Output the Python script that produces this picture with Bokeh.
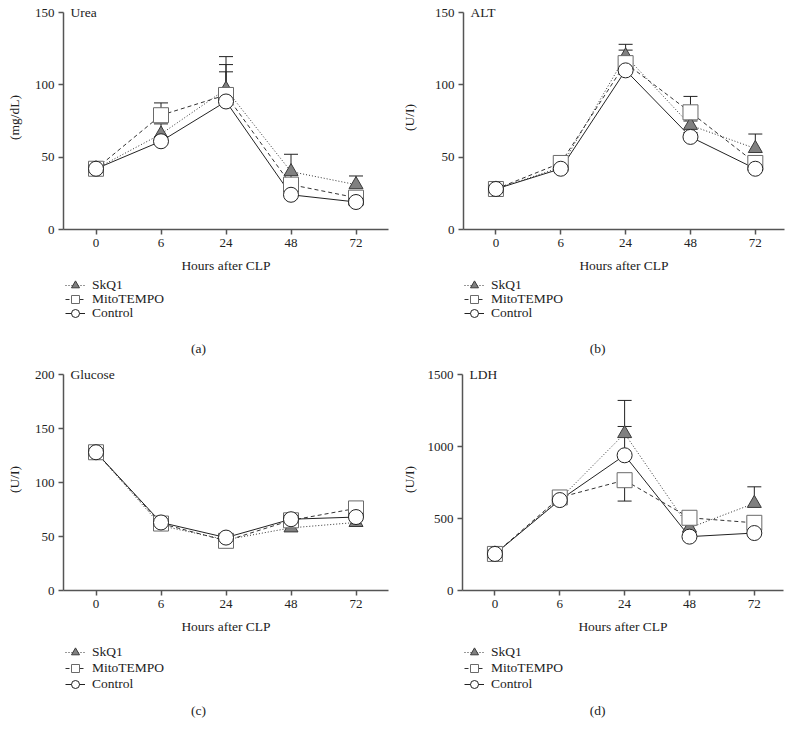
from bokeh.plotting import figure
from bokeh.models import Range1d, FixedTicker, Legend, LegendItem, Label
from bokeh.layouts import column, row
from bokeh.embed import file_html
from bokeh.resources import INLINE

hours = ["0", "6", "24", "48", "72"]
series_names = ["SkQ1", "MitoTEMPO", "Control"]

# (a) Urea, mg/dL
urea_skq1 = [42, 66, 97, 40, 31]
urea_skq1_err = [2, 7, 22.5, 12, 6]
urea_mito = [42, 79, 93, 31, 22]
urea_mito_err = [2, 8.5, 21, 7, 3]
urea_ctrl = [42, 61, 88.5, 24, 19]
urea_ctrl_err = [2, 3, 20.5, 3, 2]

# (b) ALT
alt_skq1 = [28, 43, 120, 72, 56]
alt_skq1_err = [2, 3, 8, 3, 10]
alt_mito = [28, 46, 115, 81, 46]
alt_mito_err = [2, 3, 9, 11, 4]
alt_ctrl = [28, 42, 110, 64, 42]
alt_ctrl_err = [2, 3, 4, 3, 3]

# (c) Glucose
glu_skq1 = [128, 60, 47, 58, 63]
glu_skq1_err = [3, 3, 3, 3, 3]
glu_mito = [128, 62, 46, 65, 76]
glu_mito_err = [3, 3, 3, 3, 3]
glu_ctrl = [128, 63, 49, 66, 68]
glu_ctrl_err = [3, 3, 3, 3, 3]

# (d) LDH
ldh_skq1 = [254, 635, 1090, 435, 605]
ldh_skq1_err = [20, 40, 230, 30, 115]
ldh_mito = [254, 646, 766, 505, 470]
ldh_mito_err = [20, 40, 0, 30, 30]
ldh_mito_err_down = [0, 0, 145, 0, 0]
ldh_ctrl = [254, 628, 939, 374, 399]
ldh_ctrl_err = [20, 40, 200, 30, 30]

SERIF = "Liberation Serif"
INK = "#222222"
FS = "13.5px"
STYLES = [
    dict(dash="1 2", marker="triangle", size=14, fill="#808080", edge="#3a3a3a", lc="#333333"),
    dict(dash="4 3", marker="square", size=15, fill="white", edge="#6a6a6a", lc="#333333"),
    dict(dash="solid", marker="circle", size=15, fill="white", edge="#222222", lc="#222222"),
]


def geometry(left_col, top_row):
    if left_col:
        g = dict(xr=(-0.5, 4.5), fw=325, bl=63, br=10)
    else:
        g = dict(xr=(-0.5, 4.45), fw=321, bl=64, br=4)
    g["cap_dx"] = 135
    if top_row:
        # legend row centres and caption centre, measured from the footer top
        g.update(bt=5, ext=7, fh0=217, bb=48, xlab_so=8, foot_h=91,
                 rows=(8, 22, 36), cap_y=71)
    else:
        g.update(bt=0, ext=6, fh0=216, bb=48, xlab_so=8, foot_h=91,
                 rows=(14, 30, 46), cap_y=72)
    return g


def make_panel(title, ylabel, yend, yticks, ys, errs_up, errs_dn, left_col, top_row,
               ylab_standoff, caption):
    g = geometry(left_col, top_row)
    fw, bl, br, bt, bb = g["fw"], g["bl"], g["br"], g["bt"], g["bb"]
    fh = g["fh0"] + g["ext"]
    ytop = yend * fh / g["fh0"]
    p = figure(width=bl + fw + br, height=bt + fh + bb, frame_width=fw, frame_height=fh,
               min_border_left=bl, min_border_right=br, min_border_top=bt, min_border_bottom=bb,
               x_range=Range1d(*g["xr"]), y_range=Range1d(0, ytop),
               output_backend="svg", toolbar_location=None)
    p.outline_line_color = None
    p.xgrid.visible = False
    p.ygrid.visible = False

    p.xaxis.ticker = FixedTicker(ticks=list(range(len(hours))))
    p.xaxis.major_label_overrides = {i: h for i, h in enumerate(hours)}
    p.xaxis.axis_label = "Hours after CLP"
    p.xaxis.axis_label_standoff = g["xlab_so"]
    p.xaxis.major_label_standoff = 4
    p.yaxis.ticker = FixedTicker(ticks=yticks)
    p.yaxis.bounds = (0, yend)
    p.yaxis.axis_label = ylabel
    p.yaxis.axis_label_standoff = ylab_standoff
    p.yaxis.major_label_standoff = 4
    for ax in (p.xaxis[0], p.yaxis[0]):
        ax.axis_line_color = "#555555"
        ax.axis_line_width = 1.5
        ax.major_tick_line_color = "#555555"
        ax.major_tick_line_width = 1.5
        ax.major_tick_out = 5
        ax.major_tick_in = 0
        ax.minor_tick_line_color = None
        ax.major_label_text_font = SERIF
        ax.major_label_text_font_size = "13px"
        ax.major_label_text_color = INK
        ax.axis_label_text_font = SERIF
        ax.axis_label_text_font_size = FS
        ax.axis_label_text_font_style = "normal"
        ax.axis_label_text_color = INK

    xs = list(range(len(hours)))
    for y, eu, ed in zip(ys, errs_up, errs_dn):
        for sign, e in ((1, eu), (-1, ed)):
            px = [x for x, v in zip(xs, e) if v > 0]
            py0 = [yy for yy, v in zip(y, e) if v > 0]
            py1 = [yy + sign * v for yy, v in zip(y, e) if v > 0]
            if px:
                p.segment(x0=px, y0=py0, x1=px, y1=py1, line_color=INK, line_width=1)
                p.scatter(x=px, y=py1, marker="dash", size=14, line_color=INK, line_width=1)
    for y, st in zip(ys, STYLES):
        p.line(xs, y, line_color=st["lc"], line_width=1, line_dash=st["dash"])
    for y, st in zip(ys, STYLES):
        p.scatter(xs, y, marker=st["marker"], size=st["size"],
                  fill_color=st["fill"], line_color=st["edge"], line_width=1)

    p.add_layout(Label(x=7, y=yend, x_units="screen", y_units="data", text=title,
                       text_align="left", text_baseline="middle", text_font=SERIF,
                       text_font_size=FS, text_color=INK))

    # footer: legend and caption (series drawn here again only as legend swatches;
    # the footer's ranges keep the data itself out of view)
    W = bl + fw + br
    H = g["foot_h"]
    f = figure(width=W, height=H, frame_width=W, frame_height=H,
               x_range=Range1d(100, 101), y_range=Range1d(-2, -1),
               x_axis_type=None, y_axis_type=None, min_border=0,
               output_backend="svg", toolbar_location=None)
    f.outline_line_color = None
    f.xgrid.visible = False
    f.ygrid.visible = False
    for name, y, st, c in zip(series_names, ys, STYLES, g["rows"]):
        lr = f.line(xs, y, line_color=st["lc"], line_width=1, line_dash=st["dash"])
        mr = f.scatter(xs, y, marker=st["marker"], size=st["size"],
                       fill_color=st["fill"], line_color=st["edge"], line_width=1)
        leg = Legend(items=[LegendItem(label=name, renderers=[lr, mr])],
                     location=(bl + 2, H - c - 11), orientation="vertical",
                     glyph_width=20, glyph_height=22, label_height=20, spacing=0,
                     padding=0, margin=0, label_standoff=7,
                     border_line_alpha=0, background_fill_alpha=0,
                     label_text_font=SERIF, label_text_font_size=FS,
                     label_text_color=INK)
        f.add_layout(leg)
    f.add_layout(Label(x=bl + g["cap_dx"], y=H - g["cap_y"], x_units="screen", y_units="screen",
                       text=caption, text_align="center", text_baseline="middle",
                       text_font=SERIF, text_font_size=FS, text_color=INK))
    return p, f


pa, fa = make_panel("Urea", "(mg/dL)", 150, [0, 50, 100, 150],
                    [urea_skq1, urea_mito, urea_ctrl],
                    [urea_skq1_err, urea_mito_err, urea_ctrl_err],
                    [[0] * 5, [0] * 5, [0] * 5], True, True, 10, "(a)")
pb, fb = make_panel("ALT", "(U/I)", 150, [0, 50, 100, 150],
                    [alt_skq1, alt_mito, alt_ctrl],
                    [alt_skq1_err, alt_mito_err, alt_ctrl_err],
                    [[0] * 5, [0] * 5, [0] * 5], False, True, 15, "(b)")
pc, fc = make_panel("Glucose", "(U/I)", 200, [0, 50, 100, 150, 200],
                    [glu_skq1, glu_mito, glu_ctrl],
                    [glu_skq1_err, glu_mito_err, glu_ctrl_err],
                    [[0] * 5, [0] * 5, [0] * 5], True, False, 10, "(c)")
pd_, fd = make_panel("LDH", "(U/I)", 1500, [0, 500, 1000, 1500],
                     [ldh_skq1, ldh_mito, ldh_ctrl],
                     [ldh_skq1_err, ldh_mito_err, ldh_ctrl_err],
                     [[0] * 5, ldh_mito_err_down, [0] * 5], False, False, 8, "(d)")

layout = column(row(pa, pb), row(fa, fb), row(pc, pd_), row(fc, fd))
open("out.html", "w").write(file_html(layout, INLINE))
